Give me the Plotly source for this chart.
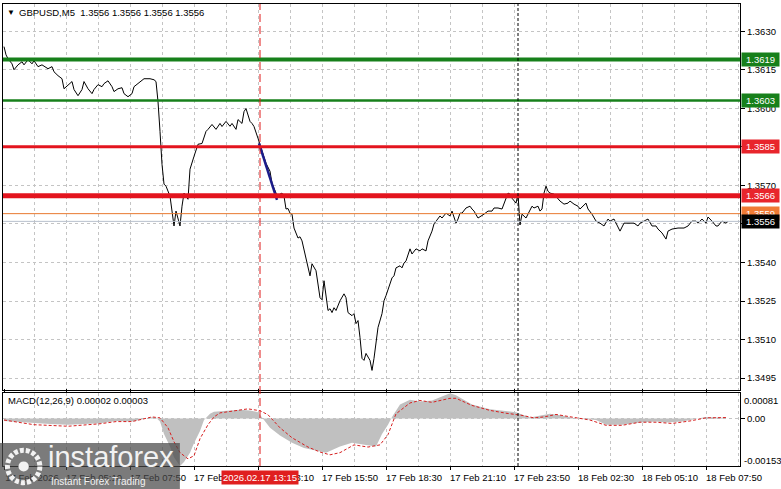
import pandas as pd
import plotly.graph_objects as go

# GBPUSD M5 line chart with MACD(12,26,9) sub-window.
# x is counted in M5 bars; bar 0 is 17 Feb 2026 02:35.
START = pd.Timestamp("2026-02-17 02:35")
BAR = pd.Timedelta(minutes=5)

price_bar = [
    0, 1, 2, 4, 5, 7, 9, 10, 12, 14,
    15, 17, 19, 20, 22, 24, 25, 27, 29, 30,
    32, 34, 35, 37, 39, 40, 42, 44, 45, 47,
    49, 50, 52, 54, 55, 57, 59, 60, 62, 64,
    65, 67, 69, 70, 73, 75, 76, 77, 78, 79,
    80, 81, 83, 84, 85, 86, 87, 88, 89, 90,
    92, 93, 95, 97, 99, 101, 102, 104, 106, 108,
    109, 111, 113, 114, 116, 117, 119, 120, 121, 122,
    123, 124, 125, 127, 128, 129, 131, 133, 134, 136,
    137, 138, 139, 140, 141, 142, 143, 144, 145, 147,
    148, 149, 151, 153, 154, 156, 158, 159, 160, 161,
    162, 163, 164, 165, 166, 168, 170, 171, 172, 174,
    175, 176, 177, 178, 179, 180, 181, 183, 184, 185,
    186, 187, 189, 190, 191, 193, 194, 195, 196, 198,
    199, 200, 201, 203, 204, 206, 208, 209, 211, 212,
    214, 215, 216, 218, 219, 221, 223, 224, 226, 227,
    228, 229, 231, 233, 234, 235, 237, 239, 240, 242,
    244, 245, 247, 249, 250, 252, 253, 254, 256, 257,
    258, 259, 261, 263, 264, 265, 267, 268, 269, 270,
    271, 272, 273, 275, 277, 278, 280, 282, 283, 285,
    287, 288, 291, 292, 294, 296, 298, 300, 302, 303,
    305, 307, 308, 310, 312, 315, 317, 318, 320, 322,
    324, 326, 327, 329, 331, 332, 334, 336, 337, 340,
    342, 344, 346, 347, 349, 351, 352, 354, 356, 357,
    359, 361, 362,
]
price_close = [
    1.36240, 1.36208, 1.36193, 1.36173, 1.36150, 1.36169, 1.36181, 1.36169, 1.36189, 1.36173,
    1.36185, 1.36162, 1.36169, 1.36165, 1.36154, 1.36162, 1.36142, 1.36127, 1.36115, 1.36076,
    1.36092, 1.36104, 1.36073, 1.36049, 1.36073, 1.36104, 1.36076, 1.36057, 1.36073, 1.36092,
    1.36084, 1.36096, 1.36107, 1.36084, 1.36065, 1.36076, 1.36080, 1.36057, 1.36045, 1.36057,
    1.36084, 1.36096, 1.36111, 1.36115, 1.36115, 1.36111, 1.36104, 1.36026, 1.35910, 1.35782,
    1.35705, 1.35697, 1.35658, 1.35600, 1.35542, 1.35600, 1.35573, 1.35542, 1.35619, 1.35670,
    1.35646, 1.35763, 1.35813, 1.35860, 1.35863, 1.35910, 1.35918, 1.35937, 1.35918, 1.35941,
    1.35929, 1.35949, 1.35930, 1.35941, 1.35918, 1.35956, 1.35941, 1.35987, 1.35999, 1.35976,
    1.35949, 1.35941, 1.35929, 1.35883, 1.35860, 1.35840, 1.35786, 1.35755, 1.35708, 1.35670,
    1.35658, 1.35666, 1.35670, 1.35658, 1.35608, 1.35610, 1.35592, 1.35588, 1.35534, 1.35495,
    1.35500, 1.35484, 1.35418, 1.35348, 1.35395, 1.35368, 1.35263, 1.35255, 1.35329, 1.35259,
    1.35213, 1.35220, 1.35205, 1.35224, 1.35213, 1.35251, 1.35278, 1.35263, 1.35205, 1.35193,
    1.35201, 1.35162, 1.35174, 1.35108, 1.35027, 1.35019, 1.35046, 1.35019, 1.34980, 1.35027,
    1.35085, 1.35147, 1.35201, 1.35251, 1.35271, 1.35317, 1.35340, 1.35348, 1.35379, 1.35387,
    1.35379, 1.35398, 1.35406, 1.35453, 1.35433, 1.35453, 1.35445, 1.35453, 1.35445, 1.35484,
    1.35522, 1.35550, 1.35561, 1.35581, 1.35573, 1.35592, 1.35581, 1.35600, 1.35553, 1.35569,
    1.35592, 1.35592, 1.35612, 1.35619, 1.35608, 1.35600, 1.35573, 1.35581, 1.35588, 1.35600,
    1.35600, 1.35612, 1.35612, 1.35608, 1.35631, 1.35670, 1.35666, 1.35650, 1.35631, 1.35666,
    1.35546, 1.35588, 1.35573, 1.35600, 1.35619, 1.35612, 1.35619, 1.35600, 1.35608, 1.35670,
    1.35697, 1.35677, 1.35670, 1.35666, 1.35646, 1.35639, 1.35627, 1.35631, 1.35639, 1.35627,
    1.35619, 1.35608, 1.35631, 1.35608, 1.35588, 1.35561, 1.35553, 1.35542, 1.35569, 1.35561,
    1.35569, 1.35534, 1.35522, 1.35553, 1.35553, 1.35553, 1.35542, 1.35553, 1.35561, 1.35569,
    1.35542, 1.35542, 1.35530, 1.35515, 1.35491, 1.35522, 1.35530, 1.35534, 1.35534, 1.35534,
    1.35542, 1.35561, 1.35561, 1.35553, 1.35569, 1.35553, 1.35577, 1.35561, 1.35542, 1.35542,
    1.35561, 1.35553, 1.35560,
]

# MACD main line (drawn as silver histogram) and dotted signal line
macd_bar = [
    0, 8, 15, 23, 32, 40, 48, 56, 64, 70,
    74, 76, 78, 80, 83, 85, 88, 90, 93, 95,
    98, 100, 103, 105, 110, 118, 123, 127, 130, 133,
    138, 144, 150, 154, 161, 168, 174, 181, 186, 189,
    192, 194, 198, 203, 208, 214, 218, 223, 226, 234,
    243, 251, 256, 263, 268, 273, 279, 286, 296, 301,
    309, 318, 326, 331, 339, 346, 351, 359, 361,
]
macd_main = [
    -0.00008, -0.00012, -0.00015, -0.00018, -0.00020, -0.00017, -0.00015, -0.00008, -0.00010, -0.00002,
    0.00004, 0.00003, -0.00010, -0.00050, -0.00090, -0.00125, -0.00153, -0.00140, -0.00110, -0.00080,
    -0.00040, -0.00005, 0.00015, 0.00022, 0.00025, 0.00028, 0.00026, 0.00020, -0.00005, -0.00030,
    -0.00055, -0.00078, -0.00095, -0.00100, -0.00110, -0.00090, -0.00078, -0.00085, -0.00090, -0.00050,
    -0.00020, 0.00005, 0.00045, 0.00060, 0.00055, 0.00058, 0.00068, 0.00081, 0.00075, 0.00045,
    0.00030, 0.00025, 0.00020, 0.00003, 0.00008, 0.00015, 0.00010, 0.00000, -0.00005, -0.00020,
    -0.00020, -0.00013, -0.00010, -0.00013, -0.00010, -0.00002, 0.00005, 0.00002, 0.00002,
]
signal_bar = [
    0, 15, 32, 48, 56, 64, 74, 78, 82, 85,
    88, 92, 95, 98, 102, 105, 108, 115, 122, 128,
    132, 138, 144, 152, 158, 163, 168, 175, 182, 188,
    192, 196, 203, 208, 214, 223, 226, 234, 243, 251,
    259, 265, 270, 276, 284, 293, 301, 309, 318, 326,
    334, 343, 351, 359, 361,
]
macd_signal = [
    -0.00005, -0.00020, -0.00025, -0.00017, -0.00010, -0.00010, 0.00005, 0.00002, -0.00030, -0.00075,
    -0.00110, -0.00130, -0.00120, -0.00065, -0.00020, 0.00005, 0.00018, 0.00025, 0.00031, 0.00025,
    0.00012, -0.00030, -0.00062, -0.00092, -0.00108, -0.00117, -0.00110, -0.00085, -0.00092, -0.00085,
    -0.00052, 0.00015, 0.00050, 0.00058, 0.00052, 0.00065, 0.00065, 0.00042, 0.00026, 0.00017,
    0.00010, 0.00002, 0.00005, 0.00013, 0.00004, -0.00005, -0.00022, -0.00022, -0.00012, -0.00012,
    -0.00016, -0.00008, 0.00002, 0.00002, 0.00003,
]

# hand-drawn trend segment
trend_bar = [127.5, 136.5]
trend_price = [1.35863, 1.35644]

# horizontal levels with their price tags on the right
level_price = [1.3619, 1.3603, 1.3585, 1.3566, 1.3559, 1.3556]
level_color = ["#17801b", "#17801b", "#e3141e", "#e3141e", "#e8792f", "#b8c0cc"]
level_width = [4, 2.5, 3, 5, 1, 1]
tag_color = ["#17801b", "#17801b", "#e8252c", "#e8252c", "#f07a35", "#000000"]

price_ticks = [1.3495, 1.3510, 1.3525, 1.3540, 1.3555, 1.3570, 1.3585, 1.3600, 1.3615, 1.3630]
time_ticks = ["2026-02-17 02:35", "2026-02-17 05:10", "2026-02-17 07:50", "2026-02-17 10:30",
              "2026-02-17 13:10", "2026-02-17 15:50", "2026-02-17 18:30", "2026-02-17 21:10",
              "2026-02-17 23:50", "2026-02-18 02:30", "2026-02-18 05:10", "2026-02-18 07:50"]
time_labels = ["17 Feb 2026", "17 Feb 05:10", "17 Feb 07:50", "17 Feb 10:30", "17 Feb 13:10",
               "17 Feb 15:50", "17 Feb 18:30", "17 Feb 21:10", "17 Feb 23:50", "18 Feb 02:30",
               "18 Feb 05:10", "18 Feb 07:50"]
CURSOR_TIME = "2026-02-17 13:15"
DAY_BREAK = "2026-02-18 00:00"

assert len(price_bar) == len(price_close)
assert len(macd_bar) == len(macd_main)
assert len(signal_bar) == len(macd_signal)


def to_time(bars):
    return [START + BAR * b for b in bars]


GRID = "#c4c4c4"
FONT = "Liberation Sans, Arial, sans-serif"
WM = "#f2f2f2"

fig = go.Figure()
fig.add_trace(go.Scatter(x=to_time(macd_bar), y=macd_main, mode="lines", fill="tozeroy",
                         fillcolor="#c0c0c0", line=dict(width=0, color="#c0c0c0"), yaxis="y2"))
fig.add_trace(go.Scatter(x=to_time(signal_bar), y=macd_signal, mode="lines",
                         line=dict(color="#d62020", width=1, dash="3px,2px"), yaxis="y2"))
fig.add_trace(go.Scatter(x=to_time(price_bar), y=price_close, mode="lines",
                         line=dict(color="#000000", width=1)))
fig.add_trace(go.Scatter(x=to_time(trend_bar), y=trend_price, mode="lines",
                         line=dict(color="#1c1c8a", width=2.5)))

for p, c, w, t in zip(level_price, level_color, level_width, tag_color):
    fig.add_shape(type="line", xref="x domain", x0=0, x1=1, yref="y", y0=p, y1=p,
                  line=dict(color=c, width=w))
    fig.add_annotation(xref="paper", x=1, xanchor="left", xshift=1, yref="y", y=p,
                       text=f"{p:.4f}", showarrow=False, bgcolor=t, borderpad=1, width=35,
                       font=dict(color="white", size=9.5, family=FONT))

fig.add_shape(type="line", xref="x", x0=CURSOR_TIME, x1=CURSOR_TIME, yref="paper", y0=0, y1=1,
              line=dict(color="#e01818", width=1, dash="8px,4px"))
fig.add_shape(type="line", xref="x", x0=DAY_BREAK, x1=DAY_BREAK, yref="paper", y0=0, y1=1,
              line=dict(color="#000000", width=1, dash="3px,2px"))

# chart title and indicator caption
fig.add_annotation(xref="paper", x=0, xanchor="left", xshift=2, yref="paper", y=1, yanchor="top",
                   yshift=-2, text="▼", showarrow=False, font=dict(size=8, color="black", family=FONT))
fig.add_annotation(xref="paper", x=0, xanchor="left", xshift=14, yref="paper", y=1, yanchor="top",
                   yshift=-1, text="GBPUSD,M5  1.3556 1.3556 1.3556 1.3556", showarrow=False,
                   font=dict(size=9.5, color="black", family=FONT))
fig.add_annotation(xref="paper", x=0, xanchor="left", xshift=3, yref="y2 domain", y=1, yanchor="top",
                   yshift=0, text="MACD(12,26,9) 0.00002 0.00003", showarrow=False,
                   font=dict(size=9.5, color="black", family=FONT))
# MACD window max/min tags
fig.add_annotation(xref="paper", x=1, xanchor="left", xshift=2, yref="y2 domain", y=1, yanchor="top",
                   yshift=0, text="0.00081", showarrow=False, font=dict(size=9.5, family=FONT))
fig.add_annotation(xref="paper", x=1, xanchor="left", xshift=2, yref="y2 domain", y=0, yanchor="bottom",
                   yshift=-2, text="-0.00153", showarrow=False, font=dict(size=9.5, family=FONT))
# crosshair time tag
fig.add_annotation(xref="x", x=CURSOR_TIME, yref="paper", y=0, yanchor="top", yshift=-4,
                   text="2026.02.17 13:15", showarrow=False, bgcolor="#e01f1f", borderpad=1,
                   font=dict(color="white", size=9.5, family=FONT))

# instaforex watermark (box, ring logo, wordmark)
fig.add_shape(type="rect", xref="paper", yref="paper", x0=-0.01, x1=0.240, y0=-0.07, y1=0.05,
              fillcolor="rgba(72,72,72,0.72)", line=dict(width=0), layer="above")
fig.add_shape(type="circle", xref="paper", yref="paper", x0=0.006, x1=0.050, y0=-0.036, y1=0.034,
              line=dict(color=WM, width=5, dash="4px,2px"), layer="above")
fig.add_shape(type="circle", xref="paper", yref="paper", x0=0.021, x1=0.035, y0=-0.012, y1=0.010,
              fillcolor=WM, line=dict(width=0), layer="above")
fig.add_annotation(xref="paper", x=0.058, xanchor="left", yref="paper", y=-0.02, text="instaforex",
                   showarrow=False, font=dict(size=29, color=WM, family=FONT))
fig.add_annotation(xref="paper", x=0.062, xanchor="left", yref="paper", y=-0.05,
                   text="Instant Forex Trading", showarrow=False,
                   font=dict(size=10, color=WM, family=FONT))

axis_common = dict(showline=True, linecolor="black", linewidth=1, zeroline=False,
                   gridcolor=GRID, griddash="3px,3px", gridwidth=1, tickcolor="black")

fig.update_layout(
    width=781, height=489,
    margin=dict(l=3, r=41, t=0, b=23),
    paper_bgcolor="white", plot_bgcolor="white",
    font=dict(family=FONT, size=9.5, color="black"),
    showlegend=False,
    xaxis=dict(
        type="date", anchor="y2", mirror="all",
        range=[START - BAR * 0.5, START + BAR * 368],
        tickvals=time_ticks, ticktext=time_labels, ticks="outside", ticklen=3,
        ticklabelshift=28, showgrid=True,
        minor=dict(tick0="2026-02-17 03:50", dtick=16 * 5 * 60 * 1000, showgrid=True,
                   gridcolor=GRID, griddash="3px,3px", ticks=""),
        **axis_common,
    ),
    yaxis=dict(
        domain=[0.1638, 1], anchor="x", side="right", mirror=True,
        range=[1.349025, 1.364058], tickvals=price_ticks, tickformat=".4f",
        ticks="outside", ticklen=4, showgrid=True, **axis_common,
    ),
    yaxis2=dict(
        domain=[0, 0.1573], anchor="x", side="right", mirror=True,
        range=[-0.00153, 0.00081], tickvals=[0], ticktext=["0.00"],
        ticks="outside", ticklen=4, showgrid=True, **axis_common,
    ),
)

# the page is photographed at exactly the figure size, so drop the default body margin
fig.write_html("out.html", config={"displayModeBar": False},
               post_script="document.body.style.margin='0';")
